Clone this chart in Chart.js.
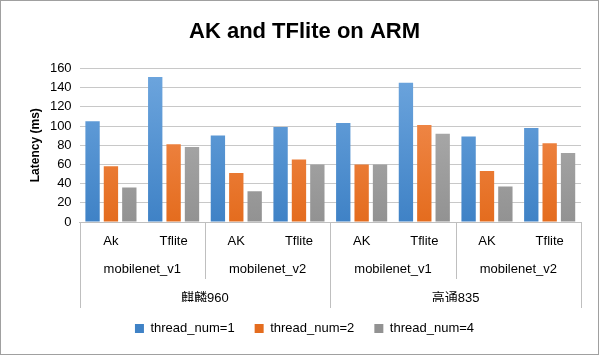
<!DOCTYPE html>
<html>
<head>
<meta charset="utf-8">
<script src="https://cdn.jsdelivr.net/npm/chart.js@4/dist/chart.umd.min.js"></script>
<style>
  html, body { margin: 0; padding: 0; background: #fff; }
  #wrap { width: 600px; height: 356px; position: relative; }
</style>
</head>
<body>
<div id="wrap"><canvas id="c" width="600" height="356"></canvas></div>
<script>
// ---- data ----
const frameworks = ['Ak', 'Tflite', 'AK', 'Tflite', 'AK', 'Tflite', 'AK', 'Tflite'];
const models = ['mobilenet_v1', 'mobilenet_v2', 'mobilenet_v1', 'mobilenet_v2'];
const devices = ['麒麟960', '高通835'];
const seriesNames = ['thread_num=1', 'thread_num=2', 'thread_num=4'];
const thread1 = [105, 151, 90, 99, 103, 145, 89, 98];
const thread2 = [58, 81, 51, 65, 60, 101, 53, 82];
const thread4 = [36, 78, 32, 60, 60, 92, 37, 72];
const yTicks = [0, 20, 40, 60, 80, 100, 120, 140, 160];

const FONT = "'Liberation Sans', 'Noto Sans CJK SC', sans-serif";
const palette = [
  ['#6EA6DE', '#3F82C6'],
  ['#F4935A', '#E46C1E'],
  ['#B5B5B5', '#929292']
];

function grad(idx) {
  return function(ctx) {
    const chart = ctx.chart;
    const area = chart.chartArea;
    if (!area) return palette[idx][0];
    const g = chart.ctx.createLinearGradient(0, area.top, 0, area.bottom);
    g.addColorStop(0, palette[idx][0]);
    g.addColorStop(1, palette[idx][1]);
    return g;
  };
}

const separators = {
  id: 'separators',
  afterDraw(chart) {
    const ctx = chart.ctx;
    const x = chart.scales.x;
    const area = chart.chartArea;
    const bottomShort = chart.scales.x2.bottom;
    const bottomLong = area.bottom + 86;
    const b = (i) => (x.getPixelForValue(i) + x.getPixelForValue(i + 1)) / 2;
    ctx.save();
    ctx.strokeStyle = '#BFBFBF';
    ctx.lineWidth = 1;
    const lines = [
      [x.left, bottomLong], [x.right, bottomLong],
      [b(1), bottomShort], [b(5), bottomShort], [b(3), bottomLong]
    ];
    lines.forEach(([px, yb]) => {
      const xx = Math.round(px) + 0.5;
      ctx.beginPath();
      ctx.moveTo(xx, area.bottom);
      ctx.lineTo(xx, yb);
      ctx.stroke();
    });
    // outer border
    ctx.strokeStyle = '#A0A0A0';
    ctx.strokeRect(0.5, 0.5, 598, 354);
    ctx.restore();
  }
};

const tickFont = { family: FONT, size: 13 };

new Chart(document.getElementById('c'), {
  type: 'bar',
  data: {
    labels: frameworks,
    datasets: [
      { label: seriesNames[0], data: thread1, backgroundColor: grad(0) },
      { label: seriesNames[1], data: thread2, backgroundColor: grad(1) },
      { label: seriesNames[2], data: thread4, backgroundColor: grad(2) }
    ]
  },
  options: {
    responsive: false,
    animation: false,
    devicePixelRatio: 1,
    layout: { padding: { left: 28, right: 19, top: 0, bottom: 11 } },
    datasets: { bar: { categoryPercentage: 0.88, barPercentage: 0.78 } },
    plugins: {
      title: {
        display: true,
        text: 'AK and TFlite on ARM',
        color: '#000',
        font: { family: FONT, size: 22, weight: 'bold' },
        padding: { top: 19, bottom: 23 }
      },
      legend: {
        position: 'bottom',
        labels: {
          color: '#000',
          font: tickFont,
          boxWidth: 9,
          boxHeight: 9,
          padding: 20,
          generateLabels(chart) {
            return chart.data.datasets.map((ds, i) => ({
              text: ds.label,
              fillStyle: palette[i][1],
              strokeStyle: palette[i][1],
              lineWidth: 0,
              datasetIndex: i,
              hidden: false
            }));
          }
        }
      },
      tooltip: { enabled: false }
    },
    scales: {
      y: {
        min: 0, max: 160,
        afterBuildTicks(scale) { scale.ticks = yTicks.map(v => ({ value: v })); },
        ticks: { color: '#000', font: tickFont, padding: 8 },
        grid: { color: '#C8C8C8', drawTicks: false },
        border: { display: false },
        title: {
          display: true, text: 'Latency (ms)', color: '#000',
          font: { family: FONT, size: 12, weight: 'bold' },
          padding: { top: 0, bottom: 4 }
        },
        afterFit(scale) { scale.width = 51.6; }
      },
      x: {
        type: 'category',
        position: 'bottom',
        weight: 0,
        ticks: { color: '#000', font: tickFont, padding: 12, maxRotation: 0, autoSkip: false },
        grid: { display: false, drawTicks: false },
        border: { display: true, color: '#BFBFBF' },
        afterFit(scale) { scale.height = 28; }
      },
      x2: {
        type: 'category',
        position: 'bottom',
        weight: 1,
        labels: models,
        offset: true,
        ticks: { color: '#000', font: tickFont, padding: 12, maxRotation: 0, autoSkip: false },
        grid: { display: false, drawTicks: false },
        border: { display: false },
        afterFit(scale) { scale.height = 29; }
      },
      x3: {
        type: 'category',
        position: 'bottom',
        weight: 2,
        labels: devices,
        offset: true,
        ticks: { color: '#000', font: tickFont, padding: 12, maxRotation: 0, autoSkip: false },
        grid: { display: false, drawTicks: false },
        border: { display: false },
        afterFit(scale) { scale.height = 23; }
      }
    }
  },
  plugins: [separators]
});
</script>
</body>
</html>
